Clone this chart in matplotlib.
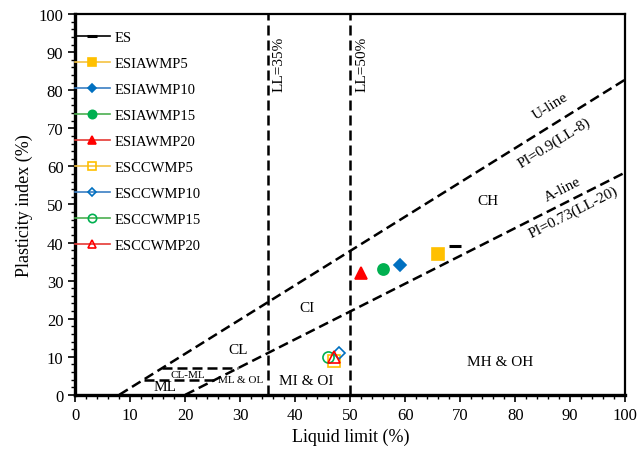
import matplotlib

matplotlib.use("Agg")
import matplotlib.pyplot as plt
import numpy as np
from matplotlib.ticker import MultipleLocator

plt.rcParams["font.family"] = ["Liberation Serif", "DejaVu Serif"]

# Liquid limit / plasticity index of each mix
series_names = [
    "ES", "ESIAWMP5", "ESIAWMP10", "ESIAWMP15", "ESIAWMP20",
    "ESCCWMP5", "ESCCWMP10", "ESCCWMP15", "ESCCWMP20",
]
liquid_limit = [69, 66, 59, 56, 52, 47, 48, 46, 47]
plasticity_index = [39, 37, 34, 33, 32, 9, 11, 10, 10]

# Chart boundaries
u_line_ll = [8, 100]
a_line_ll = [20, 100]
ll_boundaries = [35, 50]
clml_pi = [7, 4]

marker_colors = ["black", "#FFC000", "#0070C0", "#00B050", "#FF0000",
                 "#FFC000", "#0070C0", "#00B050", "#FF0000"]
line_colors = ["black", "#F5C242", "#3B7FC4", "#4CAF50", "#E53935",
               "#F5C242", "#3B7FC4", "#4CAF50", "#E53935"]
markers = ["_", "s", "D", "o", "^", "s", "D", "o", "^"]
filled = [True, True, True, True, True, False, False, False, False]
sizes = [9, 8, 6, 8, 8, 8, 6, 8, 8]

fig, ax = plt.subplots(figsize=(6.38, 4.56), dpi=100)
fig.subplots_adjust(left=0.118, right=0.98, top=0.967, bottom=0.132)

dash = dict(color="black", lw=1.8, ls=(0, (4, 2)))

u_x = np.array(u_line_ll)
ax.plot(u_x, 0.9 * (u_x - 8), **dash)
a_x = np.array(a_line_ll)
ax.plot(a_x, 0.73 * (a_x - 20), **dash)
for ll in ll_boundaries:
    ax.plot([ll, ll], [0, 100], **dash)
for pi in clml_pi:
    ax.plot([pi / 0.9 + 8, pi / 0.73 + 20], [pi, pi], **dash)

for name, x, y, m, mc, lc, f, s in zip(series_names, liquid_limit,
                                       plasticity_index, markers,
                                       marker_colors, line_colors, filled, sizes):
    ax.plot([x], [y], marker=m, ls="-", color=lc, markersize=s,
            markerfacecolor=mc if f else "none", markeredgecolor=mc,
            markeredgewidth=2.2 if m == "_" else 1.2, lw=1.2, label=name)

ax.legend(loc="upper left", frameon=False, fontsize=10.5, handlelength=2.4,
          labelspacing=0.88, borderaxespad=0, bbox_to_anchor=(-0.012, 0.972),
          handletextpad=0.35, markerscale=0.75)

fs = 11
ax.text(37, 87, "LL=35%", rotation=90, ha="center", va="center", fontsize=fs)
ax.text(52.2, 87, "LL=50%", rotation=90, ha="center", va="center", fontsize=fs)
ax.text(86.4, 75.9, "U-line", rotation=32, ha="center", va="center", fontsize=fs)
ax.text(87.0, 66.4, "PI=0.9(LL-8)", rotation=32, ha="center", va="center", fontsize=fs)
ax.text(88.7, 54.0, "A-line", rotation=27, ha="center", va="center", fontsize=fs)
ax.text(90.5, 48.0, "PI=0.73(LL-20)", rotation=27, ha="center", va="center", fontsize=fs)
ax.text(75, 51, "CH", ha="center", va="center", fontsize=fs)
ax.text(42.2, 23, "CI", ha="center", va="center", fontsize=fs)
ax.text(29.6, 12, "CL", ha="center", va="center", fontsize=fs)
ax.text(77.3, 8.7, "MH & OH", ha="center", va="center", fontsize=fs)
ax.text(42, 3.7, "MI & OI", ha="center", va="center", fontsize=fs)
ax.text(16.4, 2.3, "ML", ha="center", va="center", fontsize=fs)
ax.text(20.4, 5.4, "CL-ML", ha="center", va="center", fontsize=8)
ax.text(30, 3.9, "ML & OL", ha="center", va="center", fontsize=8)

ax.set_xlim(0, 100)
ax.set_ylim(0, 100)
ax.xaxis.set_major_locator(MultipleLocator(10))
ax.yaxis.set_major_locator(MultipleLocator(10))
ax.xaxis.set_minor_locator(MultipleLocator(2))
ax.yaxis.set_minor_locator(MultipleLocator(2))
ax.tick_params(which="major", direction="out", length=5, width=1.2, labelsize=12)
ax.tick_params(which="minor", direction="out", length=3, width=1.0)
ax.set_xlabel("Liquid limit (%)", fontsize=13)
ax.set_ylabel("Plasticity index (%)", fontsize=13)
for side in ["left", "bottom"]:
    ax.spines[side].set_linewidth(2.4)
for side in ["top", "right"]:
    ax.spines[side].set_linewidth(1.6)

fig.savefig("out.png", dpi=100)
